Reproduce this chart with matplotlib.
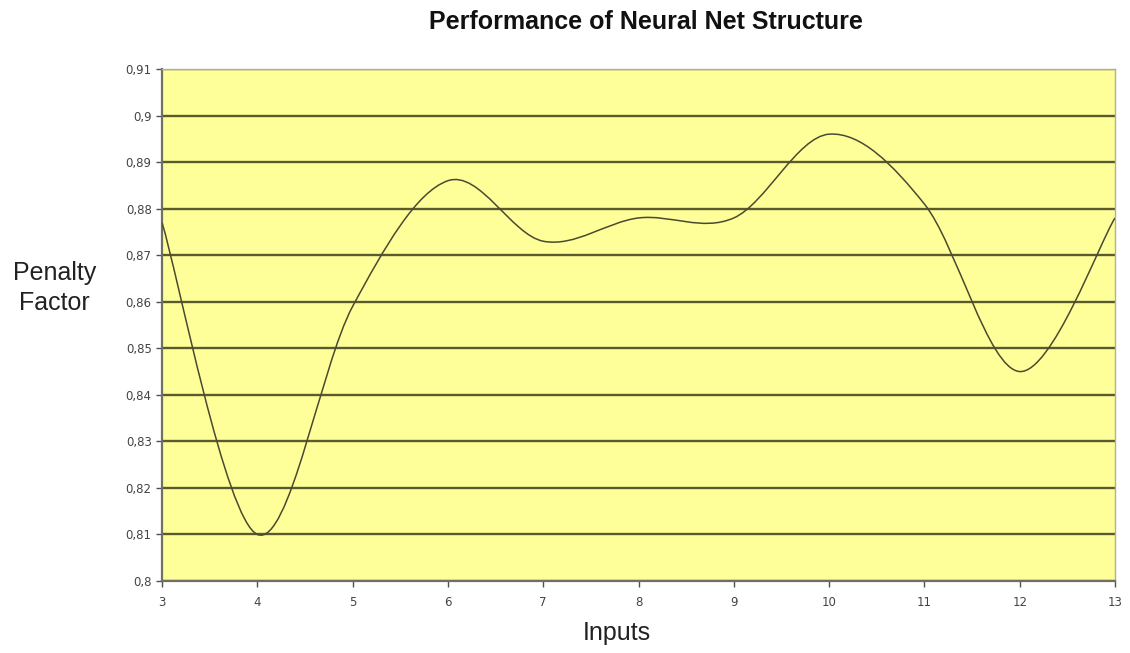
import matplotlib
matplotlib.use("Agg")
import matplotlib.pyplot as plt
from matplotlib.path import Path
from matplotlib.patches import PathPatch
from matplotlib.ticker import FuncFormatter, MultipleLocator

plt.rcParams['font.family'] = ['Liberation Sans', 'DejaVu Sans']

# Number of inputs to the net and the penalty factor measured for each
inputs = [3, 4, 5, 6, 7, 8, 9, 10, 11, 12, 13]
penalty = [0.877, 0.810, 0.859, 0.886, 0.873, 0.878, 0.878, 0.896, 0.881, 0.845, 0.878]


# Smoothed line like a spreadsheet chart: one cubic Bezier per segment,
# control points taken from the neighbouring points (Catmull-Rom style).
def smooth_path(xs, ys):
    n = len(xs)
    verts = [(xs[0], ys[0])]
    codes = [Path.MOVETO]
    for i in range(n - 1):
        x0, y0 = xs[max(i - 1, 0)], ys[max(i - 1, 0)]
        x1, y1 = xs[i], ys[i]
        x2, y2 = xs[i + 1], ys[i + 1]
        x3, y3 = xs[min(i + 2, n - 1)], ys[min(i + 2, n - 1)]
        c1 = (x1 + (x2 - x0) / 6, y1 + (y2 - y0) / 6)
        c2 = (x2 - (x3 - x1) / 6, y2 - (y3 - y1) / 6)
        verts += [c1, c2, (x2, y2)]
        codes += [Path.CURVE4] * 3
    return Path(verts, codes)


fig = plt.figure(figsize=(11.3, 6.53), dpi=100)
ax = fig.add_axes([0.1434, 0.1103, 0.8433, 0.784])
ax.set_facecolor('#ffff99')

ax.set_xlim(3, 13)
ax.set_ylim(0.80, 0.91)
ax.xaxis.set_major_locator(MultipleLocator(1))
ax.yaxis.set_major_locator(MultipleLocator(0.01))
ax.yaxis.set_major_formatter(FuncFormatter(lambda v, p: ('%g' % round(v, 2)).replace('.', ',')))

ax.grid(axis='y', color='#5a5a2c', linewidth=1.7)
ax.set_axisbelow(True)

ax.add_patch(PathPatch(smooth_path(inputs, penalty), fill=False,
                       edgecolor='#4a4a30', linewidth=1.1, zorder=3))

for side in ['top', 'right']:
    ax.spines[side].set_color('#b0b0a0')
    ax.spines[side].set_linewidth(1.0)
for side in ['left', 'bottom']:
    ax.spines[side].set_color('#707060')
    ax.spines[side].set_linewidth(1.6)

ax.tick_params(axis='both', direction='out', length=4, width=1, color='#505050',
               labelsize=8.5, labelcolor='#444444')
ax.tick_params(axis='x', pad=7)
for lbl in ax.get_xticklabels() + ax.get_yticklabels():
    lbl.set_family('DejaVu Sans')

fig.text(0.572, 0.966, 'Performance of Neural Net Structure', ha='center', va='center',
         fontsize=18, fontweight='bold', color='#111111')
fig.text(0.048, 0.559, 'Penalty\nFactor', ha='center', va='center',
         fontsize=18, color='#222222', linespacing=1.3)
fig.text(0.546, 0.031, 'Inputs', ha='center', va='center', fontsize=18, color='#222222')

fig.savefig('out.png', dpi=100)
